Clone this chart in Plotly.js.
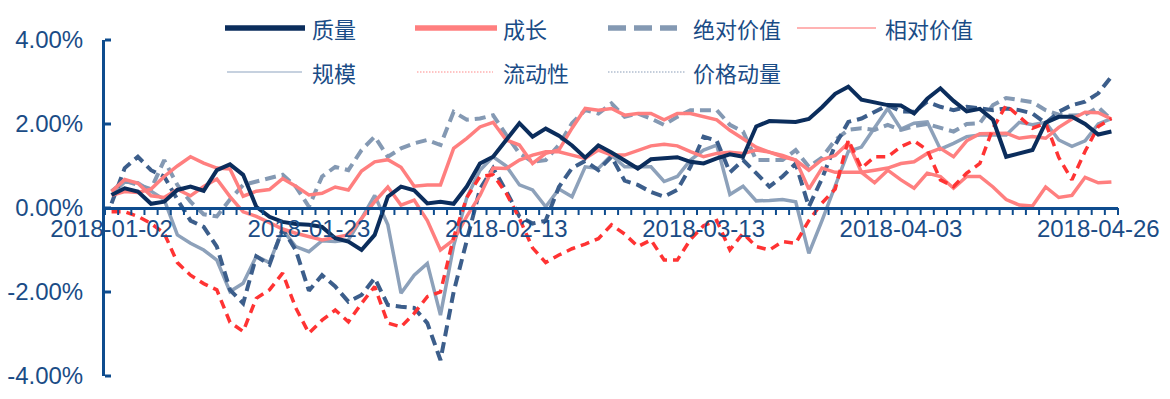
<!DOCTYPE html>
<html>
<head>
<meta charset="utf-8">
<script src="https://cdn.plot.ly/plotly-3.0.1.min.js"></script>
<style>
  html, body { margin: 0; padding: 0; background: #ffffff; }
  #chart { width: 1170px; height: 399px; }
</style>
</head>
<body>
<div id="chart"></div>
<script>
// Trading days (categories)
const dates = [
  "2018-01-02","2018-01-03","2018-01-04","2018-01-05","2018-01-08","2018-01-09","2018-01-10","2018-01-11","2018-01-12","2018-01-15",
  "2018-01-16","2018-01-17","2018-01-18","2018-01-19","2018-01-22","2018-01-23","2018-01-24","2018-01-25","2018-01-26","2018-01-29",
  "2018-01-30","2018-01-31","2018-02-01","2018-02-02","2018-02-05","2018-02-06","2018-02-07","2018-02-08","2018-02-09","2018-02-12",
  "2018-02-13","2018-02-14","2018-02-22","2018-02-23","2018-02-26","2018-02-27","2018-02-28","2018-03-01","2018-03-02","2018-03-05",
  "2018-03-06","2018-03-07","2018-03-08","2018-03-09","2018-03-12","2018-03-13","2018-03-14","2018-03-15","2018-03-16","2018-03-19",
  "2018-03-20","2018-03-21","2018-03-22","2018-03-23","2018-03-26","2018-03-27","2018-03-28","2018-03-29","2018-03-30","2018-04-02",
  "2018-04-03","2018-04-04","2018-04-09","2018-04-10","2018-04-11","2018-04-12","2018-04-13","2018-04-16","2018-04-17","2018-04-18",
  "2018-04-19","2018-04-20","2018-04-23","2018-04-24","2018-04-25","2018-04-26","2018-04-27"
];
const labelDates = ["2018-01-02","2018-01-23","2018-02-13","2018-03-13","2018-04-03","2018-04-26"];
const yTicks = [-4, -2, 0, 2, 4];

// Series values (%)
const quality = [0.31,0.47,0.39,0.10,0.15,0.43,0.51,0.41,0.90,1.04,0.79,0.03,-0.21,-0.33,-0.38,-0.40,-0.45,-0.72,-0.80,-1.00,
  -0.64,0.27,0.51,0.42,0.11,0.15,0.10,0.51,1.06,1.22,1.62,2.02,1.70,1.89,1.72,1.49,1.20,1.49,1.32,1.14,
  0.94,1.16,1.18,1.21,1.10,1.06,1.18,1.28,1.22,1.94,2.07,2.05,2.05,2.12,2.40,2.72,2.89,2.58,2.52,2.45,
  2.44,2.25,2.60,2.85,2.55,2.30,2.36,2.10,1.22,1.30,1.38,2.03,2.17,2.17,2.00,1.75,1.82];
const growth = [0.30,0.39,0.37,0.45,0.75,1.00,1.22,1.07,0.95,0.93,0.28,0.40,0.44,0.70,0.52,0.31,0.35,0.50,0.43,0.88,
  1.10,1.15,0.97,0.52,0.55,0.55,1.42,1.66,1.93,2.04,1.62,1.50,1.06,1.30,1.38,1.90,2.37,2.33,2.37,2.21,
  2.25,2.25,2.10,2.25,2.25,2.17,2.10,1.85,1.65,1.45,1.33,1.22,1.14,0.90,1.15,1.25,1.55,0.85,0.90,0.95,
  1.06,1.10,1.30,1.42,1.22,1.60,1.77,1.78,1.78,1.66,1.70,1.66,1.92,2.12,2.28,2.27,2.12];
const absValue = [0.40,0.65,0.55,0.45,1.14,0.55,0.15,-0.15,-0.20,0.20,0.55,0.63,0.70,0.79,0.51,0.03,0.75,0.98,0.90,1.38,
  1.70,1.22,1.42,1.54,1.62,1.50,2.29,2.10,2.13,2.21,1.74,1.30,1.10,1.14,1.50,2.02,2.33,2.25,2.49,2.17,
  2.25,2.13,1.98,2.17,2.33,2.33,2.33,1.98,1.82,1.14,1.14,1.14,1.38,0.98,1.20,1.62,1.86,1.90,1.86,1.98,
  1.86,1.95,2.00,1.90,1.82,2.00,2.02,2.45,2.62,2.57,2.52,2.33,2.22,2.20,2.22,2.40,2.10];
const relValue = [0.39,0.68,0.59,0.29,0.25,0.44,0.29,0.51,0.69,0.27,-0.09,-0.20,-0.35,-0.50,-0.60,-0.68,-0.76,-0.70,-0.64,-0.25,
  0.15,0.50,0.07,0.19,-0.30,-1.00,-0.76,-0.20,0.30,0.95,0.94,1.14,1.26,1.34,1.34,1.26,1.18,1.38,1.26,1.26,
  1.38,1.48,1.52,1.48,1.34,1.22,1.30,1.33,1.30,1.38,1.33,1.25,1.14,0.45,0.95,0.85,0.85,0.85,0.60,0.90,
  0.67,0.47,0.83,0.75,0.47,0.75,0.75,0.50,0.20,0.07,0.05,0.50,0.25,0.30,0.73,0.60,0.62];
const size = [0.31,0.62,0.60,0.40,0.20,-0.64,-0.84,-1.00,-1.24,-1.99,-1.79,-1.15,-1.30,-0.52,-0.92,-1.04,-0.78,-0.80,-0.76,-0.25,
  0.30,-0.40,-2.03,-1.60,-1.32,-2.55,-0.90,0.25,0.90,1.22,1.00,0.55,0.43,0.03,0.45,0.27,0.98,0.94,1.26,0.98,
  0.98,0.98,0.63,0.75,1.14,1.38,1.50,0.32,0.52,0.17,0.18,0.20,0.15,-1.08,-0.30,0.50,1.35,1.45,1.90,2.37,
  1.88,2.02,2.05,1.40,1.54,1.70,1.74,1.74,1.74,2.04,1.98,2.04,1.62,1.47,1.60,2.00,2.13];
const liquidity = [-0.09,-0.09,-0.20,-0.37,-0.60,-1.30,-1.60,-1.80,-1.95,-2.72,-2.94,-2.15,-1.95,-1.55,-2.38,-2.98,-2.67,-2.43,-2.71,-2.27,
  -1.87,-2.74,-2.83,-2.51,-2.11,-2.00,-0.70,0.25,0.75,0.79,0.35,-0.25,-0.95,-1.30,-1.12,-0.97,-0.86,-0.73,-0.40,-0.62,
  -0.92,-0.76,-1.24,-1.24,-0.75,-0.42,-0.30,-1.00,-0.60,-0.92,-1.00,-0.80,-0.84,-0.30,0.12,0.45,1.62,0.95,1.22,1.22,
  1.46,1.60,1.38,0.67,0.51,0.83,1.06,1.90,2.45,2.17,1.90,2.02,1.20,0.67,1.35,1.94,2.13];
const momentum = [0.11,0.95,1.22,0.90,0.75,0.20,-0.30,-0.45,-0.92,-1.95,-2.27,-1.15,-1.35,-0.50,-1.00,-1.97,-1.60,-1.87,-2.23,-2.07,
  -1.67,-2.31,-2.35,-2.38,-2.74,-3.62,-2.00,-0.76,0.45,0.95,0.40,-0.20,-0.37,-0.30,0.50,0.95,1.12,0.90,1.22,0.65,
  0.55,0.38,0.27,0.43,0.98,1.70,1.60,0.85,1.14,0.83,0.51,0.75,1.06,0.03,0.70,1.50,2.05,2.13,2.30,2.45,
  2.30,2.29,2.53,2.41,2.33,2.41,2.37,2.33,2.37,2.33,2.25,2.02,2.29,2.45,2.53,2.73,3.13];

const idx = dates.map((d, i) => i);
const labelIdx = labelDates.map(d => dates.indexOf(d));
// category boundaries (tick marks sit between categories)
const bounds = dates.concat(["end"]).map((d, i) => i - 0.5);

const C_NAVY = '#0B2D5C', C_SALMON = '#FF7F7F', C_LIGHT = '#8499B3', C_SLATE = '#3C5E8B',
      C_SIZE = '#8DA1BA', C_RED = '#FF3333', C_AXIS = '#0E4C8E', C_TEXT = '#1A4C86';

// Plot-area geometry (pixels)
const L = 105, W = 1013, T = 40, H = 336;
const Y_RANGE = [-4, 4], X_RANGE = [-0.5, dates.length - 0.5];
const px = v => (v - L) / W, py = v => (T + H - v) / H;
// axis value -> paper fraction (same linear mapping as the axes' ranges)
const xFrac = v => (v - X_RANGE[0]) / (X_RANGE[1] - X_RANGE[0]);
const yFrac = v => (v - Y_RANGE[0]) / (Y_RANGE[1] - Y_RANGE[0]);

function tr(name, y, color, width, dash) {
  return { type: 'scatter', mode: 'lines', name: name, x: idx, y: y, showlegend: false,
    line: { color: color, width: width, dash: dash || 'solid' }, hoverinfo: 'skip' };
}
const data = [
  tr('规模', size, C_SIZE, 3.5),
  tr('绝对价值', absValue, C_LIGHT, 4, '11px,6px'),
  tr('价格动量', momentum, C_SLATE, 4, '11px,6px'),
  tr('相对价值', relValue, C_SALMON, 3.5),
  tr('成长', growth, C_SALMON, 3.5),
  tr('流动性', liquidity, C_RED, 3.5, '9px,6px'),
  tr('质量', quality, C_NAVY, 4)
];

// Manual legend (icons differ from plotted strokes, as in the original)
const legendItems = [
  { name: '质量', x0: 225, x1: 305, tx: 310, y: 28, color: C_NAVY, width: 5.5, dash: 'solid' },
  { name: '成长', x0: 415, x1: 497, tx: 501, y: 28, color: C_SALMON, width: 5.5, dash: 'solid' },
  { name: '绝对价值', x0: 608, x1: 677, tx: 691, y: 28, color: C_LIGHT, width: 5.5, dash: '18px,8px' },
  { name: '相对价值', x0: 797, x1: 876, tx: 883, y: 28, color: '#FF9A9A', width: 1.5, dash: 'solid' },
  { name: '规模', x0: 227, x1: 302, tx: 310, y: 72, color: '#B3C2D5', width: 1.5, dash: 'solid' },
  { name: '流动性', x0: 417, x1: 493, tx: 501, y: 72, color: '#FF8A8A', width: 1.2, dash: '1.5px,1.5px' },
  { name: '价格动量', x0: 608, x1: 685, tx: 691, y: 72, color: '#8A9DB8', width: 1.2, dash: '1.5px,1.5px' }
];
const shapes = legendItems.map(it => ({
  type: 'line', xref: 'paper', yref: 'paper', x0: px(it.x0), x1: px(it.x1), y0: py(it.y), y1: py(it.y),
  line: { color: it.color, width: it.width, dash: it.dash }
}));
// x-axis tick comb (paper coordinates): 7px marks below the zero line at each category boundary
const zeroY = yFrac(0);
bounds.forEach(b => shapes.push({
  type: 'line', xref: 'paper', yref: 'paper',
  x0: xFrac(b), x1: xFrac(b), y0: zeroY, y1: zeroY - 7 / H,
  line: { color: C_AXIS, width: 2 }
}));
// y-axis tick marks (paper coordinates): 6px pointing into the plot
yTicks.forEach(v => shapes.push({
  type: 'line', xref: 'paper', yref: 'paper',
  x0: 0, x1: 6 / W, y0: yFrac(v), y1: yFrac(v),
  line: { color: C_AXIS, width: 3 }
}));
const annotations = legendItems.map(it => ({
  xref: 'paper', yref: 'paper', x: px(it.tx), y: py(it.y), xanchor: 'left', yanchor: 'middle',
  text: it.name, showarrow: false,
  font: { family: '"Noto Sans CJK SC", sans-serif', size: 22, color: C_TEXT }
}));

const layout = {
  width: 1170, height: 399,
  margin: { l: L, r: 1170 - L - W, t: T, b: 399 - T - H, pad: 0 },
  paper_bgcolor: '#ffffff', plot_bgcolor: '#ffffff',
  showlegend: false,
  font: { family: '"Liberation Sans", Arial, sans-serif', color: C_TEXT },
  xaxis: {
    type: 'linear', range: X_RANGE,
    anchor: 'free', position: zeroY,
    showgrid: false, zeroline: false,
    showline: true, linecolor: C_AXIS, linewidth: 3,
    tickmode: 'array', tickvals: labelIdx, ticktext: labelDates,
    ticks: '', ticklabelstandoff: -2,
    tickfont: { size: 24, color: C_TEXT, family: '"Liberation Sans", Arial, sans-serif' }
  },
  yaxis: {
    range: Y_RANGE, tickmode: 'array', tickvals: yTicks,
    ticktext: yTicks.map(v => v.toFixed(2) + '%'),
    showgrid: false, zeroline: false,
    showline: true, linecolor: C_AXIS, linewidth: 3,
    ticks: '', ticklabelstandoff: 14,
    tickfont: { size: 24, color: C_TEXT, family: '"Liberation Sans", Arial, sans-serif' }
  },
  shapes: shapes,
  annotations: annotations
};

Plotly.newPlot('chart', data, layout, { displayModeBar: false, staticPlot: true });
</script>
</body>
</html>
